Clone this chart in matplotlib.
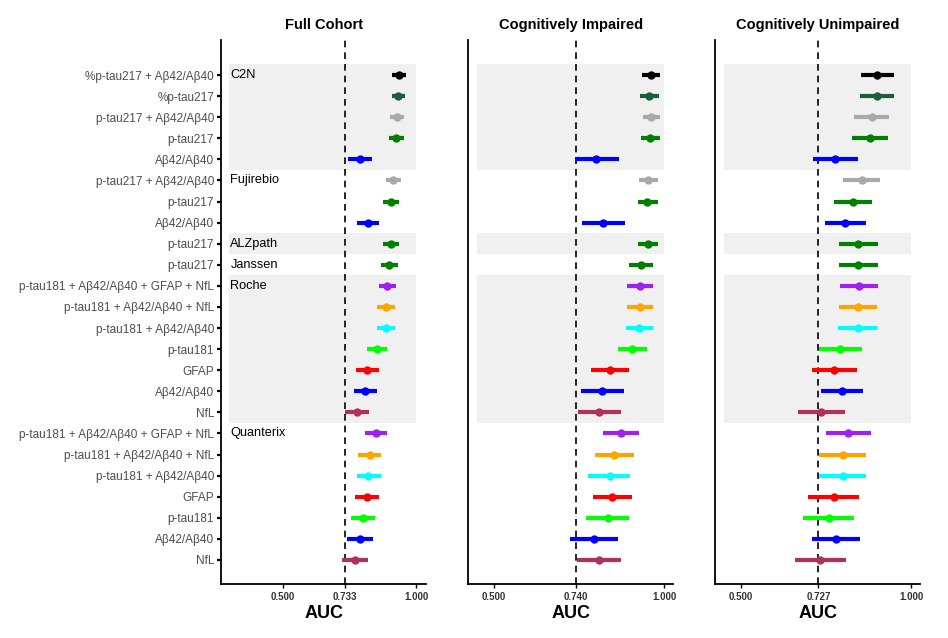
import matplotlib.pyplot as plt
import numpy as np

plt.rcParams['font.family'] = ['Liberation Sans', 'DejaVu Sans']

# biomarker per row, top to bottom
biomarkers = ["%p-tau217 + Aβ42/Aβ40", "%p-tau217", "p-tau217 + Aβ42/Aβ40", "p-tau217", "Aβ42/Aβ40",
              "p-tau217 + Aβ42/Aβ40", "p-tau217", "Aβ42/Aβ40",
              "p-tau217",
              "p-tau217",
              "p-tau181 + Aβ42/Aβ40 + GFAP + NfL", "p-tau181 + Aβ42/Aβ40 + NfL", "p-tau181 + Aβ42/Aβ40",
              "p-tau181", "GFAP", "Aβ42/Aβ40", "NfL",
              "p-tau181 + Aβ42/Aβ40 + GFAP + NfL", "p-tau181 + Aβ42/Aβ40 + NfL", "p-tau181 + Aβ42/Aβ40",
              "GFAP", "p-tau181", "Aβ42/Aβ40", "NfL"]
platforms = ["C2N"] * 5 + ["Fujirebio"] * 3 + ["ALZpath"] + ["Janssen"] + ["Roche"] * 7 + ["Quanterix"] * 7

panels = ["Full Cohort", "Cognitively Impaired", "Cognitively Unimpaired"]
ref_lines = [0.733, 0.740, 0.727]

full_auc = [0.934, 0.933, 0.927, 0.924, 0.790, 0.914, 0.906, 0.818, 0.906, 0.896,
            0.891, 0.886, 0.886, 0.853, 0.817, 0.809, 0.777,
            0.848, 0.825, 0.821, 0.816, 0.799, 0.789, 0.771]
full_lo = [0.909, 0.908, 0.902, 0.897, 0.746, 0.888, 0.877, 0.777, 0.877, 0.866,
           0.859, 0.852, 0.852, 0.816, 0.775, 0.766, 0.734,
           0.809, 0.782, 0.777, 0.772, 0.754, 0.740, 0.721]
full_hi = [0.961, 0.959, 0.953, 0.953, 0.835, 0.943, 0.934, 0.861, 0.934, 0.930,
           0.924, 0.920, 0.919, 0.891, 0.859, 0.852, 0.823,
           0.891, 0.868, 0.866, 0.862, 0.847, 0.838, 0.821]

ci_auc = [0.961, 0.954, 0.961, 0.958, 0.800, 0.952, 0.950, 0.820, 0.951, 0.932,
          0.928, 0.928, 0.926, 0.905, 0.839, 0.817, 0.808,
          0.871, 0.853, 0.839, 0.846, 0.833, 0.794, 0.807]
ci_lo = [0.935, 0.927, 0.937, 0.932, 0.736, 0.926, 0.923, 0.758, 0.923, 0.897,
         0.891, 0.890, 0.888, 0.863, 0.783, 0.755, 0.747,
         0.820, 0.795, 0.776, 0.789, 0.770, 0.723, 0.744]
ci_hi = [0.987, 0.984, 0.987, 0.987, 0.867, 0.981, 0.980, 0.884, 0.982, 0.966,
         0.966, 0.966, 0.966, 0.948, 0.895, 0.881, 0.872,
         0.924, 0.911, 0.900, 0.905, 0.895, 0.863, 0.873]

cu_auc = [0.899, 0.898, 0.883, 0.879, 0.776, 0.854, 0.828, 0.805, 0.844, 0.844,
          0.847, 0.843, 0.842, 0.791, 0.774, 0.796, 0.736,
          0.813, 0.800, 0.799, 0.772, 0.758, 0.778, 0.733]
cu_lo = [0.851, 0.850, 0.832, 0.826, 0.710, 0.800, 0.772, 0.745, 0.787, 0.788,
         0.791, 0.787, 0.785, 0.728, 0.709, 0.734, 0.668,
         0.748, 0.730, 0.730, 0.697, 0.683, 0.709, 0.659]
cu_hi = [0.948, 0.948, 0.935, 0.932, 0.843, 0.909, 0.885, 0.868, 0.902, 0.902,
         0.903, 0.899, 0.899, 0.855, 0.840, 0.858, 0.806,
         0.881, 0.867, 0.867, 0.846, 0.833, 0.849, 0.809]

colors = {"%p-tau217 + Aβ42/Aβ40": "black", "%p-tau217": "#1b5e3c",
          "p-tau217 + Aβ42/Aβ40": "#a9a9a9", "p-tau217": "#008000", "Aβ42/Aβ40": "#0000ff",
          "p-tau181 + Aβ42/Aβ40 + GFAP + NfL": "#a020f0", "p-tau181 + Aβ42/Aβ40 + NfL": "#ffa500",
          "p-tau181 + Aβ42/Aβ40": "#00ffff", "p-tau181": "#00ff00", "GFAP": "#ff0000", "NfL": "#b03060"}

data = [(full_auc, full_lo, full_hi), (ci_auc, ci_lo, ci_hi), (cu_auc, cu_lo, cu_hi)]
xlims = [(0.269, 1.037), (0.423, 1.026), (0.4235, 1.026)]
band_left = [0.30, 0.45, 0.45]

n = len(biomarkers)
ypos = n - np.arange(n)  # top row at n

fig = plt.figure(figsize=(9.48, 6.38), dpi=100)
lefts = [0.2331, 0.4937, 0.7542]
axes = [fig.add_axes([l, 0.0846, 0.2165, 0.8527]) for l in lefts]

# platform groups for bands/labels
groups = []
for i, p in enumerate(platforms):
    if not groups or groups[-1][0] != p:
        groups.append([p, i, i])
    else:
        groups[-1][2] = i

for k, ax in enumerate(axes):
    auc, lo, hi = data[k]
    for g, (name, i0, i1) in enumerate(groups):
        if g % 2 == 0:
            ax.fill_between([band_left[k], 1.0], ypos[i1] - 0.5, ypos[i0] + 0.5,
                            color='#f0f0f0', lw=0, zorder=0)
        if k == 0:
            ax.text(band_left[k] + 0.004, ypos[i0], name, ha='left', va='center',
                    fontsize=9.2, color='black', zorder=3)
    ax.axvline(ref_lines[k], color='black', ls=(0, (4, 3)), lw=1.2, zorder=1)
    for i in range(n):
        c = colors[biomarkers[i]]
        ax.plot([lo[i], hi[i]], [ypos[i], ypos[i]], color=c, lw=3.0,
                solid_capstyle='butt', zorder=2)
        ax.plot(auc[i], ypos[i], 'o', color=c, ms=6, mew=0, zorder=3)
    ax.set_xlim(*xlims[k])
    ax.set_ylim(-0.14, n + 1.66)
    ax.set_xticks([0.5, ref_lines[k], 1.0])
    ax.set_xticklabels(["0.500", f"{ref_lines[k]:.3f}", "1.000"], fontsize=7,
                       fontweight='bold', color='#333333')
    ax.set_xlabel("AUC", fontsize=13, fontweight='bold', labelpad=2)
    ax.set_title(panels[k], fontsize=10.5, fontweight='bold', pad=8)
    for s in ['top', 'right']:
        ax.spines[s].set_visible(False)
    for s in ['left', 'bottom']:
        ax.spines[s].set_linewidth(1.3)
    ax.tick_params(axis='x', length=3, width=1, pad=3)
    if k == 0:
        ax.set_yticks(ypos)
        ax.set_yticklabels(biomarkers, fontsize=8.45, color='#4d4d4d')
        ax.tick_params(axis='y', length=3, width=1.6, pad=2)
    else:
        ax.set_yticks([])

fig.savefig("out.png", dpi=100)
